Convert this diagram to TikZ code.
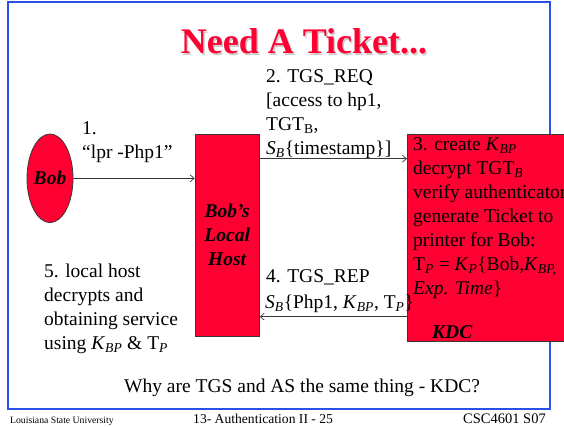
\documentclass[tikz,border=0pt]{standalone}
\usepackage{fontspec}
\setmainfont{Liberation Serif}
\usetikzlibrary{shapes.geometric,arrows.meta}
\definecolor{slidered}{RGB}{255,0,51}
\definecolor{frameblue}{RGB}{40,80,235}
\definecolor{edgegray}{RGB}{55,55,55}
\newcommand{\bodyfont}{\fontsize{19.5}{24}\selectfont}
\newcommand{\isb}[1]{\textsubscript{\itshape #1}}
\newcommand{\rsb}[1]{\textsubscript{#1}}
\begin{document}
\begin{tikzpicture}[x=1pt,y=-1pt,
  txt/.style={anchor=base west,inner sep=0pt,font=\bodyfont},
  box/.style={draw=edgegray,line width=0.8pt,fill=slidered,inner sep=0pt},
  lbl/.style={font=\bodyfont\bfseries\itshape},
  arr/.style={draw=edgegray,line width=0.7pt,-{Straight Barb[length=4pt,width=7pt]}},
  foot/.style={anchor=base west,inner sep=0pt}]
\useasboundingbox (0,0) rectangle (564,427);
\fill[white] (0,0) rectangle (564,427);

% slide frame
\draw[frameblue,line width=2pt] (7.5,2) rectangle (550,408.5);

% title with drop shadow
\node[anchor=base,inner sep=0pt,font=\fontsize{36}{40}\selectfont\bfseries,text=black!20]
  (titleshadow) at (305.5,55.5) {Need A Ticket...};
\node[anchor=base,inner sep=0pt,font=\fontsize{36}{40}\selectfont\bfseries,text=slidered]
  (title) at (304,54) {Need A Ticket...};

% message labels
\node[txt] (m1a) at (82,135) {1.};
\node[txt] (m1b) at (82,159) {“lpr -Php1”};

\node[txt] (m2a) at (266,82.7) {2. TGS\_REQ};
\node[txt] (m2b) at (266,106.7) {[access to hp1,};
\node[txt] (m2c) at (266,130.7) {TGT\rsb{B},};
\node[txt] (m2d) at (266,154.7) {\textit{S}\isb{B}\{timestamp\}]};

\node[txt] (m4a) at (266,283) {4. TGS\_REP};

\node[txt] (m5a) at (44,277.7) {5. local host};
\node[txt] (m5b) at (44,301.7) {decrypts and};
\node[txt] (m5c) at (44,325.7) {obtaining service};
\node[txt] (m5d) at (44,349.7) {using \textit{K}\isb{BP} \& T\isb{P}};

% principals
\node[box,ellipse,minimum width=43.4pt,minimum height=88.6pt,lbl] (bob) at (50,178.3) {Bob};
\node[box,minimum width=64.3pt,minimum height=202pt,lbl,align=center] (host) at (227.2,235)
  {Bob’s\\Local\\Host};
\node[box,minimum width=163pt,minimum height=207pt] (kdc) at (488.8,237.5) {};

% reply contents, its closing brace reaching the KDC box
\node[txt] (m4b) at (265,308) {\textit{S}\isb{B}\{Php1, \textit{K}\isb{BP}, T\isb{P}\}};

% work done by the KDC
\node[txt] (k1) at (413,150.7) {3. create \textit{K}\isb{BP}};
\node[txt] (k2) at (413,174.7) {decrypt TGT\isb{B}};
\node[txt] (k3) at (413,198.7) {verify authenticator};
\node[txt] (k4) at (413,222.7) {generate Ticket to};
\node[txt] (k5) at (413,246.7) {printer for Bob:};
\node[txt] (k6) at (413,270.7) {T\isb{P} = \textit{K}\isb{P}\{Bob,\textit{K}\isb{BP,}};
\node[txt] (k7) at (413,294.7) {\textit{Exp. Time}\}};
\node[txt,font=\bodyfont\bfseries\itshape] (kname) at (432,338) {KDC};

% messages
\coordinate (reqy) at (0,158.7);
\coordinate (repy) at (0,316.7);
\draw[arr] (bob.east) -- (bob.east -| host.west);
\draw[arr] (host.east |- reqy) -- (kdc.west |- reqy);
\draw[arr] (kdc.west |- repy) -- (host.east |- repy);

% question
\node[txt] (question) at (124,392.5) {Why are TGS and AS the same thing - KDC?};

% footer
\node[foot,font=\fontsize{9.7}{11}\selectfont] (footl) at (10,423) {Louisiana State University};
\node[foot,font=\fontsize{13.6}{15}\selectfont] (footc) at (193,423) {13- Authentication II - 25};
\node[foot,font=\fontsize{14.5}{16}\selectfont] (footr) at (463,423) {CSC4601 S07};
\end{tikzpicture}
\end{document}
